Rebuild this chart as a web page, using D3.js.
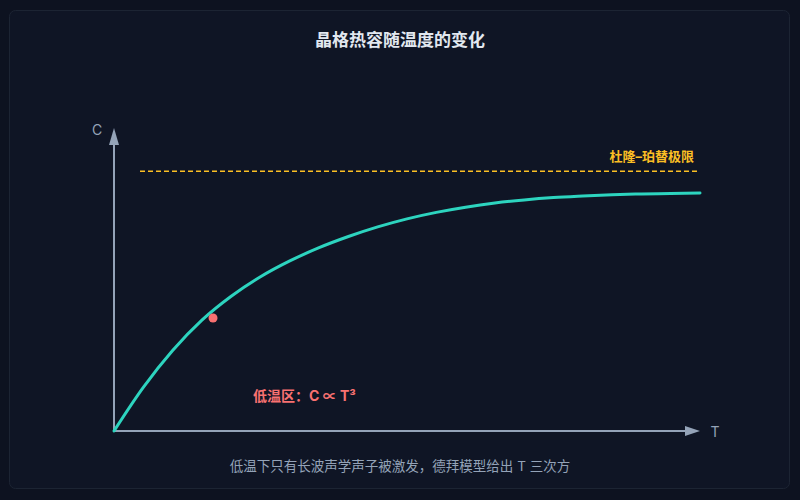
<!DOCTYPE html>
<html>
<head>
<meta charset="utf-8">
<script src="https://cdn.jsdelivr.net/npm/d3@7"></script>
<style>
  html, body { margin: 0; padding: 0; background: #0d1220; }
  #chart { width: 800px; height: 500px; }
</style>
</head>
<body>
<div id="chart"></div>
<script>
// Lattice heat capacity (C normalised so Dulong-Petit = 1)
const temps = [0, 0.5, 1, 1.5, 2, 2.5, 3, 3.5, 4, 4.5, 5, 5.5, 6, 6.5, 7, 7.5, 8, 8.5, 9, 9.5, 10];
const heatCap = [0, 0.168, 0.310, 0.427, 0.519, 0.594, 0.655, 0.706, 0.749, 0.786, 0.817,
                 0.842, 0.862, 0.878, 0.890, 0.899, 0.905, 0.910, 0.913, 0.915, 0.917];
const dulongPetit = 1;
const lowTempMarker = [1.69, 0.435];
const axisMax = [10, 1.167];

const titleText = '晶格热容随温度的变化';
const limitLabel = '杜隆–珀替极限';
const lowTempLabel = '低温区：C ∝ T³';
const caption = '低温下只有长波声学声子被激发，德拜模型给出 T 三次方';

const width = 800;
const height = 500;
const font = "Inter, 'Noto Sans CJK SC', sans-serif";

const svg = d3.select('#chart')
    .append('svg')
    .attr('width', width)
    .attr('height', height);

// card
svg.append('rect')
    .attr('x', 9.5)
    .attr('y', 10.5)
    .attr('width', 780)
    .attr('height', 478)
    .attr('rx', 6)
    .attr('fill', '#0f1525')
    .attr('stroke', '#1c2433');

svg.append('text')
    .attr('x', width / 2)
    .attr('y', 46)
    .attr('text-anchor', 'middle')
    .attr('fill', '#e2e8f0')
    .style('font-family', font)
    .style('font-size', '17px')
    .style('font-weight', 'bold')
    .text(titleText);

const x = d3.scaleLinear().domain([0, axisMax[0]]).range([114, 700]);
const y = d3.scaleLinear().domain([0, axisMax[1]]).range([431, 128]);

const axisColor = '#94a3b8';

// axes with arrowheads
const axes = svg.append('g');
axes.append('line')
    .attr('x1', x(0)).attr('y1', y(0))
    .attr('x2', x(0)).attr('y2', y(axisMax[1]) + 10)
    .attr('stroke', axisColor).attr('stroke-width', 2);
axes.append('path')
    .attr('d', `M${x(0)},${y(axisMax[1])} L${x(0) - 5},${y(axisMax[1]) + 17} L${x(0) + 5},${y(axisMax[1]) + 17} Z`)
    .attr('fill', axisColor);

axes.append('line')
    .attr('x1', x(0)).attr('y1', y(0))
    .attr('x2', x(axisMax[0]) - 10).attr('y2', y(0))
    .attr('stroke', axisColor).attr('stroke-width', 2);
axes.append('path')
    .attr('d', `M${x(axisMax[0])},${y(0)} L${x(axisMax[0]) - 15},${y(0) - 5} L${x(axisMax[0]) - 15},${y(0) + 5} Z`)
    .attr('fill', axisColor);

axes.append('text')
    .attr('x', x(0) - 17)
    .attr('y', y(axisMax[1]) + 7)
    .attr('text-anchor', 'middle')
    .attr('fill', axisColor)
    .style('font-family', font)
    .style('font-size', '14px')
    .text('C');

axes.append('text')
    .attr('x', x(axisMax[0]) + 15)
    .attr('y', y(0) + 6)
    .attr('text-anchor', 'middle')
    .attr('fill', axisColor)
    .style('font-family', font)
    .style('font-size', '14px')
    .text('T');

// Dulong-Petit limit
svg.append('line')
    .attr('x1', 140).attr('x2', 697)
    .attr('y1', y(dulongPetit)).attr('y2', y(dulongPetit))
    .attr('stroke', '#fbbf24')
    .attr('stroke-width', 1.5)
    .attr('stroke-dasharray', '5,3');

svg.append('text')
    .attr('x', 694)
    .attr('y', y(dulongPetit) - 10)
    .attr('text-anchor', 'end')
    .attr('fill', '#fbbf24')
    .style('font-family', font)
    .style('font-size', '13px')
    .style('font-weight', 'bold')
    .text(limitLabel);

// curve
const line = d3.line()
    .x((d, i) => x(temps[i]))
    .y(d => y(d))
    .curve(d3.curveMonotoneX);

svg.append('path')
    .datum(heatCap)
    .attr('d', line)
    .attr('fill', 'none')
    .attr('stroke', '#2dd4bf')
    .attr('stroke-width', 3)
    .attr('stroke-linecap', 'round');

// low temperature marker
svg.append('circle')
    .attr('cx', x(lowTempMarker[0]))
    .attr('cy', y(lowTempMarker[1]))
    .attr('r', 4.5)
    .attr('fill', '#f87171');

svg.append('text')
    .attr('x', 253)
    .attr('y', 401)
    .attr('fill', '#f87171')
    .style('font-family', font)
    .style('font-size', '14px')
    .style('font-weight', 'bold')
    .text(lowTempLabel);

svg.append('text')
    .attr('x', width / 2)
    .attr('y', 471)
    .attr('text-anchor', 'middle')
    .attr('fill', axisColor)
    .style('font-family', font)
    .style('font-size', '13.5px')
    .text(caption);
</script>
</body>
</html>
